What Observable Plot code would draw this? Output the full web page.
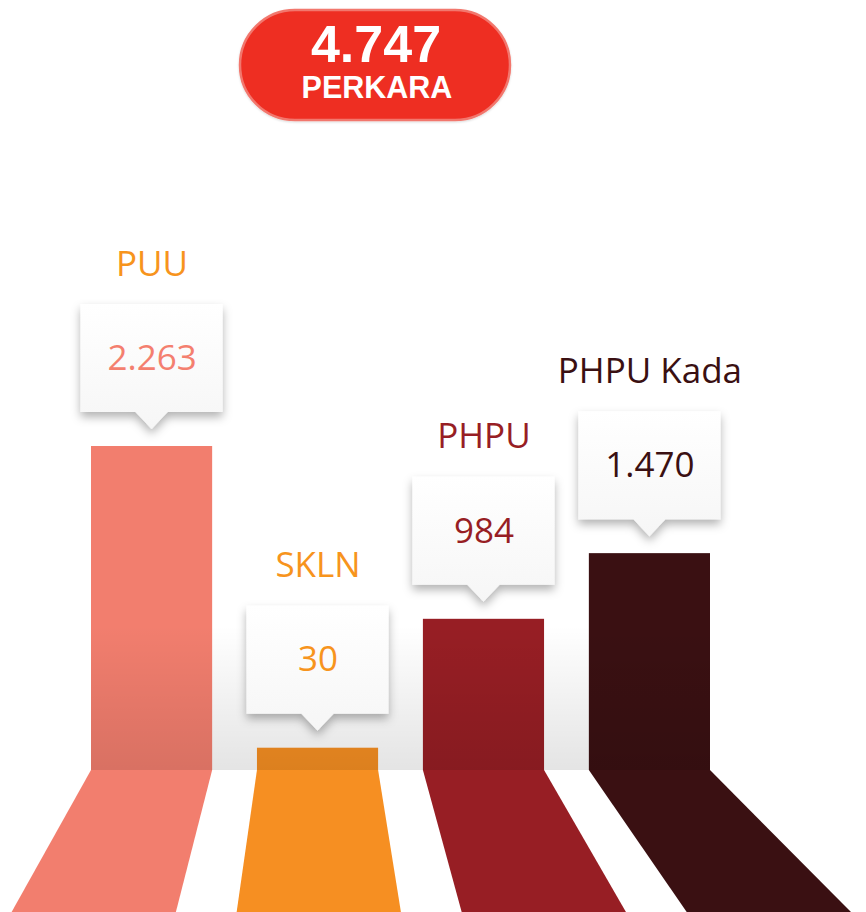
<!DOCTYPE html>
<html>
<head>
<meta charset="utf-8">
<script src="https://cdn.jsdelivr.net/npm/d3@7"></script>
<script src="https://cdn.jsdelivr.net/npm/@observablehq/plot@0.6"></script>
<style>
  html, body { margin: 0; padding: 0; background: #ffffff; overflow: hidden; }
  #chart svg { display: block; }
</style>
</head>
<body>
<div id="chart"></div>
<script>
// ---- data ----
const categories = ["PUU", "SKLN", "PHPU", "PHPU Kada"];
const values = [2263, 30, 984, 1470];
const barColors = ["#f27e6e", "#f68f22", "#971e24", "#3a1012"];
const labelColors = ["#f7941d", "#f7941d", "#971e24", "#3a1012"];
const valueColors = ["#f47f6f", "#f7941d", "#971e24", "#3a1012"];
const totalUnit = "PERKARA";

const rows = categories.map((c, i) => ({
  cat: c, value: values[i], bar: barColors[i], label: labelColors[i], valueColor: valueColors[i]
}));

const idFmt = d3.formatLocale({decimal: ",", thousands: ".", grouping: [3], currency: ["Rp", ""]}).format(",d");
const total = d3.sum(values);

// ---- layout ----
const W = 866, H = 912;
const yBase = -135;          // visual baseline of the infographic bars
const gap = 17, tri = 17, boxH = 108, boxW = 142, triHalf = 16;
const vpX = 314, persp = 1.356; // floor perspective

function decor(index, scales, values_, dimensions) {
  const sx = scales.x, sy = scales.y;
  const bw = typeof sx.bandwidth === "function" ? sx.bandwidth() : scales.scales.x.bandwidth;
  const baseY = sy(yBase);
  const g = d3.create("svg:g");
  const defs = g.append("defs");

  const shade = defs.append("linearGradient").attr("id", "shadeGrad").attr("x1", 0).attr("y1", 0).attr("x2", 0).attr("y2", 1);
  shade.append("stop").attr("offset", "0%").attr("stop-color", "#000").attr("stop-opacity", 0);
  shade.append("stop").attr("offset", "100%").attr("stop-color", "#000").attr("stop-opacity", 0.105);

  const boxGrad = defs.append("linearGradient").attr("id", "boxGrad").attr("x1", 0).attr("y1", 0).attr("x2", 0).attr("y2", 1);
  boxGrad.append("stop").attr("offset", "0%").attr("stop-color", "#ffffff");
  boxGrad.append("stop").attr("offset", "100%").attr("stop-color", "#f6f6f6");

  const f = defs.append("filter").attr("id", "boxShadow").attr("x", "-30%").attr("y", "-30%").attr("width", "160%").attr("height", "170%");
  f.append("feDropShadow").attr("dx", 0).attr("dy", 5).attr("stdDeviation", 5)
    .attr("flood-color", "#000").attr("flood-opacity", 0.3);

  const pf = defs.append("filter").attr("id", "pillShadow").attr("x", "-10%").attr("y", "-20%").attr("width", "120%").attr("height", "150%");
  pf.append("feDropShadow").attr("dx", 0).attr("dy", 1).attr("stdDeviation", 1)
    .attr("flood-color", "#000").attr("flood-opacity", 0.15);

  // background shading behind the bar bases
  const x0 = sx(categories[0]), x1 = sx(categories[categories.length - 1]) + bw;
  g.append("rect").attr("x", x0).attr("y", baseY - 145).attr("width", x1 - x0).attr("height", 145)
    .attr("fill", "url(#shadeGrad)");

  // perspective floors
  const proj = x => vpX + (x - vpX) * persp;
  for (const r of rows) {
    const l = sx(r.cat), rt = l + bw;
    g.append("path")
      .attr("d", `M${l},${baseY}L${rt},${baseY}L${proj(rt)},${H}L${proj(l)},${H}Z`)
      .attr("fill", r.bar);
  }

  // callout boxes
  for (const r of rows) {
    const cx = sx(r.cat) + bw / 2;
    const apex = sy(r.value) - gap;
    const bb = apex - tri, bt = bb - boxH;
    g.append("path")
      .attr("d", `M${cx - boxW / 2},${bt}H${cx + boxW / 2}V${bb}H${cx + triHalf}L${cx},${apex}L${cx - triHalf},${bb}H${cx - boxW / 2}Z`)
      .attr("fill", "url(#boxGrad)")
      .attr("filter", "url(#boxShadow)");
  }

  // total pill
  const pill = g.append("g");
  pill.append("rect").attr("x", 240).attr("y", 10).attr("width", 270).attr("height", 110).attr("rx", 55)
    .attr("fill", "#ee2d24").attr("stroke", "#f2776d").attr("stroke-width", 2.5).attr("filter", "url(#pillShadow)");
  pill.append("text").attr("x", 376).attr("y", 62).attr("text-anchor", "middle")
    .attr("font-family", "Liberation Sans, Arial, sans-serif").attr("font-weight", "bold").attr("font-size", 52)
    .attr("fill", "#ffffff").text(idFmt(total));
  pill.append("text").attr("x", 377).attr("y", 98).attr("text-anchor", "middle")
    .attr("font-family", "Liberation Sans, Arial, sans-serif").attr("font-weight", "bold").attr("font-size", 30.5)
    .attr("fill", "#ffffff").text(totalUnit);
  return g.node();
}

const chart = Plot.plot({
  width: W,
  height: H,
  marginLeft: 91,
  marginRight: 156,
  marginTop: 0,
  marginBottom: 0,
  style: {background: "#ffffff", fontFamily: "Open Sans, sans-serif"},
  x: {domain: categories, paddingInner: 0.27, paddingOuter: 0, round: false, axis: null},
  y: {domain: [yBase, d3.max(values)], range: [770, 446], axis: null},
  color: {type: "identity"},
  marks: [
    Plot.barY(rows, {x: "cat", y1: yBase, y2: "value", fill: "bar"}),
    decor,
    Plot.text(rows, {
      x: "cat", y: "value", text: d => idFmt(d.value), fill: "valueColor",
      dy: -(gap + tri + boxH / 2), lineAnchor: "middle",
      fontSize: 35, fontFamily: "Open Sans, sans-serif"
    }),
    Plot.text(rows, {
      x: "cat", y: "value", text: "cat", fill: "label",
      dy: -(gap + tri + boxH + 29), lineAnchor: "bottom",
      fontSize: 35, fontFamily: "Open Sans, sans-serif"
    })
  ]
});
document.getElementById("chart").appendChild(chart);
</script>
</body>
</html>
